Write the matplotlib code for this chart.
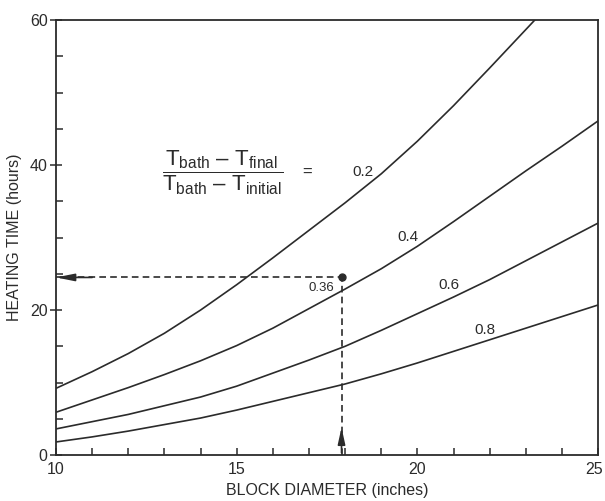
import matplotlib
matplotlib.use("Agg")
import matplotlib.pyplot as plt
import matplotlib.transforms as mtransforms
from matplotlib.ticker import MultipleLocator, FuncFormatter

plt.rcParams["font.family"] = ["Liberation Sans", "DejaVu Sans"]
plt.rcParams["mathtext.fontset"] = "custom"
plt.rcParams["mathtext.rm"] = "Liberation Sans"
plt.rcParams["mathtext.it"] = "Liberation Sans"

# block diameter (inches) and heating time (hours)
diam = [10, 11, 12, 13, 14, 15, 16, 17, 18, 19, 20, 21, 22, 23, 24, 25]
time_02 = [9.2, 11.5, 14.0, 16.8, 20.0, 23.5, 27.2, 31.0, 34.8, 38.8, 43.3, 48.2, 53.4, 58.7, 64.0, 69.5]
time_04 = [5.9, 7.6, 9.3, 11.1, 13.0, 15.1, 17.5, 20.2, 22.9, 25.7, 28.8, 32.2, 35.7, 39.2, 42.6, 46.1]
time_06 = [3.6, 4.6, 5.6, 6.8, 8.0, 9.5, 11.3, 13.1, 15.0, 17.2, 19.5, 21.8, 24.2, 26.8, 29.4, 32.0]
time_08 = [1.8, 2.5, 3.3, 4.2, 5.1, 6.2, 7.4, 8.6, 9.8, 11.2, 12.7, 14.3, 15.9, 17.5, 19.1, 20.7]

ratio_labels = ["0.2", "0.4", "0.6", "0.8"]
label_x = [18.48, 19.75, 20.86, 21.88]
label_y = [39.0, 30.1, 23.4, 17.2]

# worked example: 18 in block, ratio 0.36
ex_diam = 17.9
ex_time = 24.5
ex_label = "0.36"

ink = "#2b2b2b"

fig = plt.figure(figsize=(6.05, 5.01), dpi=100)
ax = fig.add_axes([0.0926, 0.0918, 0.896, 0.868])

for series in [time_02, time_04, time_06, time_08]:
    ax.plot(diam, series, color=ink, lw=1.2, solid_capstyle="butt")

for lab, lx, ly in zip(ratio_labels, label_x, label_y):
    ax.text(lx, ly, lab, fontsize=11, color=ink, ha="center", va="center")

# equation
ax.text(14.6, 38.9,
        r"$\dfrac{\mathrm{T_{bath}\ \endash\ T_{final}}}{\mathrm{T_{bath}\ \endash\ T_{initial}}}$",
        fontsize=16, color=ink, ha="center", va="center")
ax.text(16.95, 39.0, "=", fontsize=12, color=ink, ha="center", va="center")

# example point with dashed guides
ax.plot([ex_diam], [ex_time], "o", color=ink, ms=5)
ax.plot([10, ex_diam], [ex_time, ex_time], color=ink, lw=1.2, ls=(0, (4, 2.5)))
ax.plot([ex_diam, ex_diam], [0, ex_time], color=ink, lw=1.2, ls=(0, (4, 2.5)))
ax.annotate("", xy=(10, ex_time), xytext=(11.0, ex_time),
            arrowprops=dict(arrowstyle="-|>,head_length=1.1,head_width=0.22",
                            color=ink, lw=1.2, shrinkA=0, shrinkB=0))
ax.annotate("", xy=(ex_diam, 3.8), xytext=(ex_diam, 0.3),
            arrowprops=dict(arrowstyle="-|>,head_length=1.0,head_width=0.22",
                            color=ink, lw=1.2, shrinkA=0, shrinkB=0))
ax.text(ex_diam - 0.55, ex_time - 1.4, ex_label, fontsize=9.5, color=ink,
        ha="center", va="center")

x_min, x_max = 10, 25
ax.set_xlim(x_min, x_max)
ax.set_ylim(0, 60)
ax.xaxis.set_major_locator(MultipleLocator(5))
ax.xaxis.set_minor_locator(MultipleLocator(1))
ax.yaxis.set_major_locator(MultipleLocator(20))
ax.yaxis.set_minor_locator(MultipleLocator(5))
# last x label sits against the right edge, drawn by hand below
ax.xaxis.set_major_formatter(FuncFormatter(lambda v, p: "" if v >= x_max else f"{v:.0f}"))
ax.tick_params(axis="x", which="both", direction="in", length=5, width=1.1,
               colors=ink, labelsize=11.5, pad=5)
ax.tick_params(axis="y", which="major", direction="inout", length=8, width=1.1,
               colors=ink, labelsize=11.5, pad=2)
ax.tick_params(axis="y", which="minor", direction="in", length=5, width=1.1, colors=ink)
for s in ax.spines.values():
    s.set_color(ink)
    s.set_linewidth(1.3)

trans = ax.get_xaxis_transform() + mtransforms.ScaledTranslation(0.05, -0.07, fig.dpi_scale_trans)
ax.text(x_max, 0, f"{x_max}", transform=trans, ha="right", va="top",
        fontsize=11.5, color=ink, clip_on=False)

ax.set_xlabel("BLOCK DIAMETER (inches)", fontsize=11.5, color=ink)
ax.set_ylabel("HEATING TIME (hours)", fontsize=11.5, color=ink)
ax.xaxis.set_label_coords(0.5, -0.064)
ax.yaxis.set_label_coords(-0.062, 0.5)

fig.savefig("out.png", dpi=100, facecolor="white")
